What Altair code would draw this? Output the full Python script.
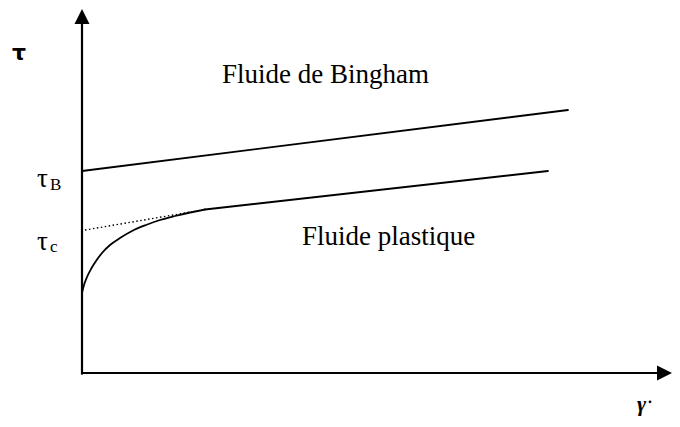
import altair as alt
import pandas as pd

# Values (gamma-dot units horizontally, tau units vertically)
bingham_gamma = [0.0, 9.72]
bingham_tau = [5.05, 6.575]

# curved start of the plastic fluid
plastic_curve_gamma = [0.0, 0.04, 0.10, 0.18, 0.28, 0.40, 0.56, 0.76, 1.00, 1.28, 1.56, 1.86, 2.16, 2.46]
plastic_curve_tau = [2.0, 2.2, 2.4, 2.6, 2.8, 3.0, 3.2, 3.375, 3.55, 3.7, 3.825, 3.925, 4.0125, 4.0875]
# straight part of the plastic fluid
plastic_line_gamma = [2.46, 9.32]
plastic_line_tau = [4.0875, 5.05]

tangent_gamma = [0.06, 2.20]
tangent_tau = [3.575, 4.03]

axis_x_gamma = [0.0, 11.5]
axis_x_tau = [0.0, 0.0]
axis_y_gamma = [0.0, 0.0]
axis_y_tau = [-0.02, 8.75]

big_labels = ["Fluide de Bingham", "Fluide plastique"]
big_label_gamma = [2.8, 4.4]
big_label_tau = [7.25, 3.2]

tau_labels = ["τ", "τ"]
tau_label_gamma = [-0.9, -0.9]
tau_label_tau = [4.65, 3.075]
sub_labels = ["B", "c"]
sub_label_gamma = [-0.64, -0.64]
sub_label_tau = [4.575, 3.025]

X = alt.Scale(domain=[-1.48, 11.8], nice=False, zero=False)
Y = alt.Scale(domain=[-1.15, 9.125], nice=False, zero=False)


def xy(g="g", t="t"):
    return dict(x=alt.X(f"{g}:Q", scale=X, axis=None), y=alt.Y(f"{t}:Q", scale=Y, axis=None))


def line(gs, ts, width=2.0, dash=None, interp="linear"):
    df = pd.DataFrame({"g": gs, "t": ts, "o": range(len(gs))})
    kw = dict(color="black", strokeWidth=width, interpolate=interp, strokeCap="round")
    if dash:
        kw["strokeDash"] = dash
        kw["strokeCap"] = "butt"
    return alt.Chart(df).mark_line(**kw).encode(order="o:Q", **xy())


axes_x = line(axis_x_gamma, axis_x_tau, 2.2)
axes_y = line(axis_y_gamma, axis_y_tau, 2.2)

arrows = alt.Chart(pd.DataFrame({"g": [0.0], "t": [8.9125]})).mark_point(
    shape="M0,-1L1,1L-1,1Z", size=225, filled=True, color="black", opacity=1
).encode(**xy())
arrow_r = alt.Chart(pd.DataFrame({"g": [11.65], "t": [0.0]})).mark_point(
    shape="M1,0L-1,-1L-1,1Z", size=225, filled=True, color="black", opacity=1
).encode(**xy())

bingham = line(bingham_gamma, bingham_tau, 1.8)
plastic_curve = line(plastic_curve_gamma, plastic_curve_tau, 1.8, interp="monotone")
plastic_line = line(plastic_line_gamma, plastic_line_tau, 1.8)
tangent = line(tangent_gamma, tangent_tau, 1.4, dash=[1.5, 2.5])

big = alt.Chart(pd.DataFrame({"g": big_label_gamma, "t": big_label_tau, "s": big_labels})).mark_text(
    font="Liberation Serif", fontSize=27, align="left", baseline="alphabetic", color="black"
).encode(text="s:N", **xy())

taus = alt.Chart(pd.DataFrame({"g": tau_label_gamma, "t": tau_label_tau, "s": tau_labels})).mark_text(
    font="Liberation Serif", fontSize=27, align="left", baseline="alphabetic", color="black"
).encode(text="s:N", **xy())
subs = alt.Chart(pd.DataFrame({"g": sub_label_gamma, "t": sub_label_tau, "s": sub_labels})).mark_text(
    font="Liberation Serif", fontSize=17, align="left", baseline="alphabetic", color="black"
).encode(text="s:N", **xy())

tau_axis = alt.Chart(pd.DataFrame({"g": [-1.26], "t": [8.0], "s": ["τ"]})).mark_text(
    font="DejaVu Sans", fontSize=22, fontWeight="bold", align="center", baseline="middle", color="black"
).encode(text="s:N", **xy())
gamma_axis = alt.Chart(pd.DataFrame({"g": [11.1], "t": [-0.95], "s": ["γ"]})).mark_text(
    font="Liberation Serif", fontSize=22, fontStyle="italic", fontWeight="bold", align="left",
    baseline="alphabetic", color="black"
).encode(text="s:N", **xy())
gamma_dot = alt.Chart(pd.DataFrame({"g": [11.36], "t": [-0.72]})).mark_point(
    shape="circle", size=8, filled=True, color="black", opacity=1
).encode(**xy())

chart = alt.layer(
    axes_x, axes_y, arrows, arrow_r, bingham, plastic_curve, plastic_line, tangent,
    big, taus, subs, tau_axis, gamma_axis, gamma_dot
).properties(
    width=664, height=411, padding=0, autosize=alt.AutoSizeParams(type="none")
).configure_view(stroke=None)

chart.save("out.html", embed_options={"renderer": "svg", "actions": False})
